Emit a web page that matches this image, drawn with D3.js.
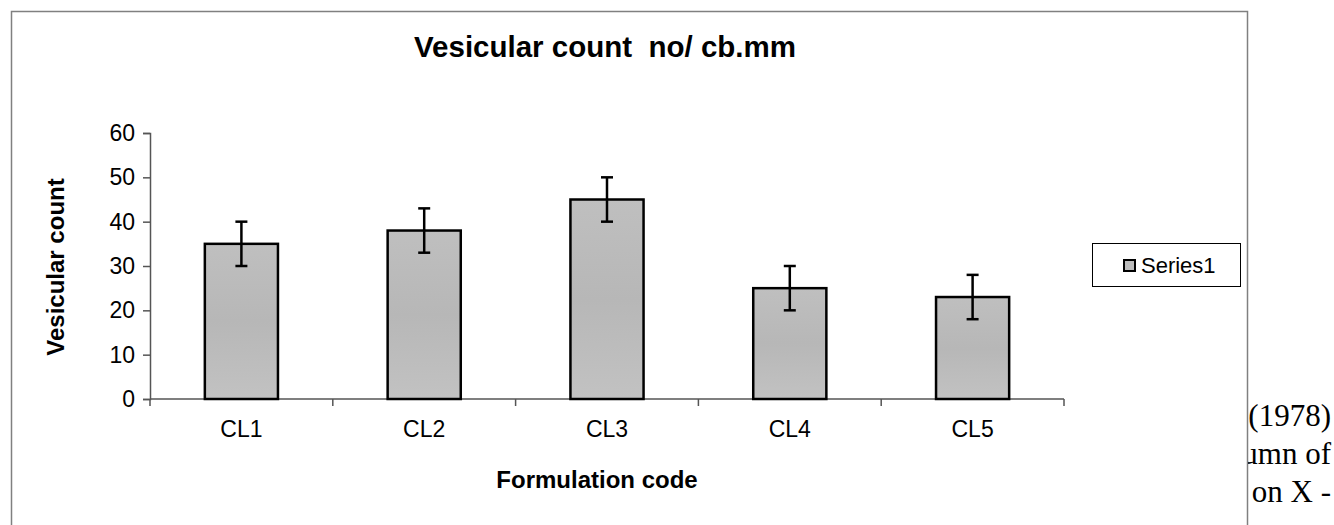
<!DOCTYPE html>
<head>
  <meta charset="utf-8">
  <script src="https://d3js.org/d3.v7.min.js"></script>
  <style>
    body { margin: 0; background: #fff; }
    svg { display: block; }
  </style>
</head>
<body>
<svg width="1334" height="525"></svg>
<script>

  let categories = ["CL1", "CL2", "CL3", "CL4", "CL5"];
  let values = [35, 38, 45, 25, 23];
  let errors = [5, 5, 5, 5, 5];
  let yTicks = [0, 10, 20, 30, 40, 50, 60];
  let seriesName = "Series1";
  let pageLines = ["(1978)", "umn of", "on X -"];

  let svg = d3.select("svg"),
    font = "'Liberation Sans', Arial, sans-serif";

  // bits of the page text peeking out on the right, chart box drawn over them
  svg.append("g")
    .selectAll("text")
    .data(pageLines)
    .enter().append("text")
    .attr("x", 1331)
    .attr("y", (d, i) => 426 + i * 38)
    .attr("text-anchor", "end")
    .style("font-family", "'Liberation Serif', 'Times New Roman', serif")
    .style("font-size", "31px")
    .text(d => d);

  svg.append("rect")
    .attr("x", 11.5).attr("y", 11.5)
    .attr("width", 1236).attr("height", 530)
    .attr("fill", "#fff")
    .attr("stroke", "#808080")
    .attr("stroke-width", 1.5);

  let defs = svg.append("defs");
  let grad = defs.append("linearGradient")
    .attr("id", "barfill")
    .attr("x1", 0).attr("y1", 0).attr("x2", 0).attr("y2", 1);
  grad.append("stop").attr("offset", "0%").attr("stop-color", "#bfbfbf");
  grad.append("stop").attr("offset", "50%").attr("stop-color", "#b7b7b7");
  grad.append("stop").attr("offset", "100%").attr("stop-color", "#c2c2c2");

  let x = d3.scaleBand()
    .domain(categories)
    .range([150, 1064])
    .paddingInner(0.6)
    .paddingOuter(0.3);

  let y = d3.scaleLinear()
    .domain([0, 60])
    .range([399, 133]);

  // y axis
  let yAxis = svg.append("g")
    .attr("transform", "translate(150,0)")
    .call(d3.axisLeft(y).tickValues(yTicks).tickSize(7).tickPadding(8));
  yAxis.select(".domain").attr("stroke", "#555").attr("stroke-width", 1.5);
  yAxis.selectAll(".tick line").attr("stroke", "#555").attr("stroke-width", 1.5);
  yAxis.selectAll("text")
    .style("font-family", font)
    .style("font-size", "23px")
    .attr("fill", "#000");

  // x axis, ticks sit between the categories like in excel
  let step = x.step();
  let bounds = d3.range(categories.length + 1).map(i => 150 + i * step);
  let xAxis = svg.append("g");
  xAxis.append("line")
    .attr("x1", 150).attr("x2", 1064)
    .attr("y1", y(0)).attr("y2", y(0))
    .attr("stroke", "#555").attr("stroke-width", 1.5);
  xAxis.selectAll(".xtick")
    .data(bounds)
    .enter().append("line")
    .attr("x1", d => d).attr("x2", d => d)
    .attr("y1", y(0)).attr("y2", y(0) + 7)
    .attr("stroke", "#555").attr("stroke-width", 1.5);
  xAxis.selectAll(".xlabel")
    .data(categories)
    .enter().append("text")
    .attr("x", d => x(d) + x.bandwidth() / 2)
    .attr("y", 437)
    .attr("text-anchor", "middle")
    .style("font-family", font)
    .style("font-size", "23px")
    .text(d => d);

  // bars
  svg.append("g")
    .selectAll("rect")
    .data(categories)
    .enter().append("rect")
    .attr("x", d => x(d))
    .attr("y", (d, i) => y(values[i]))
    .attr("width", x.bandwidth())
    .attr("height", (d, i) => y(0) - y(values[i]))
    .attr("fill", "url(#barfill)")
    .attr("stroke", "#000")
    .attr("stroke-width", 2.5);

  // error bars
  let eb = svg.append("g")
    .attr("stroke", "#000")
    .attr("stroke-width", 2.5);
  categories.forEach(function (c, i) {
    let cx = x(c) + x.bandwidth() / 2,
      lo = y(values[i] - errors[i]),
      hi = y(values[i] + errors[i]);
    eb.append("line").attr("x1", cx).attr("x2", cx).attr("y1", lo).attr("y2", hi);
    eb.append("line").attr("x1", cx - 6).attr("x2", cx + 6).attr("y1", lo).attr("y2", lo);
    eb.append("line").attr("x1", cx - 6).attr("x2", cx + 6).attr("y1", hi).attr("y2", hi);
  });

  // titles
  svg.append("text")
    .attr("x", 605).attr("y", 57)
    .attr("text-anchor", "middle")
    .style("font-family", font)
    .style("font-size", "29.5px")
    .style("font-weight", "bold")
    .style("white-space", "pre")
    .text("Vesicular count  no/ cb.mm");

  svg.append("text")
    .attr("x", 597).attr("y", 488)
    .attr("text-anchor", "middle")
    .style("font-family", font)
    .style("font-size", "24px")
    .style("font-weight", "bold")
    .text("Formulation code");

  svg.append("text")
    .attr("transform", "translate(64,267) rotate(-90)")
    .attr("text-anchor", "middle")
    .style("font-family", font)
    .style("font-size", "24px")
    .style("font-weight", "bold")
    .text("Vesicular count");

  // legend
  let legend = svg.append("g");
  legend.append("rect")
    .attr("x", 1092.5).attr("y", 243.5)
    .attr("width", 148).attr("height", 43)
    .attr("fill", "#fff")
    .attr("stroke", "#000")
    .attr("stroke-width", 1);
  legend.append("rect")
    .attr("x", 1124).attr("y", 260)
    .attr("width", 11).attr("height", 11)
    .attr("fill", "#bcbcbc")
    .attr("stroke", "#000")
    .attr("stroke-width", 2);
  legend.append("text")
    .attr("x", 1141).attr("y", 273)
    .style("font-family", font)
    .style("font-size", "22px")
    .text(seriesName);

</script>
</body>
